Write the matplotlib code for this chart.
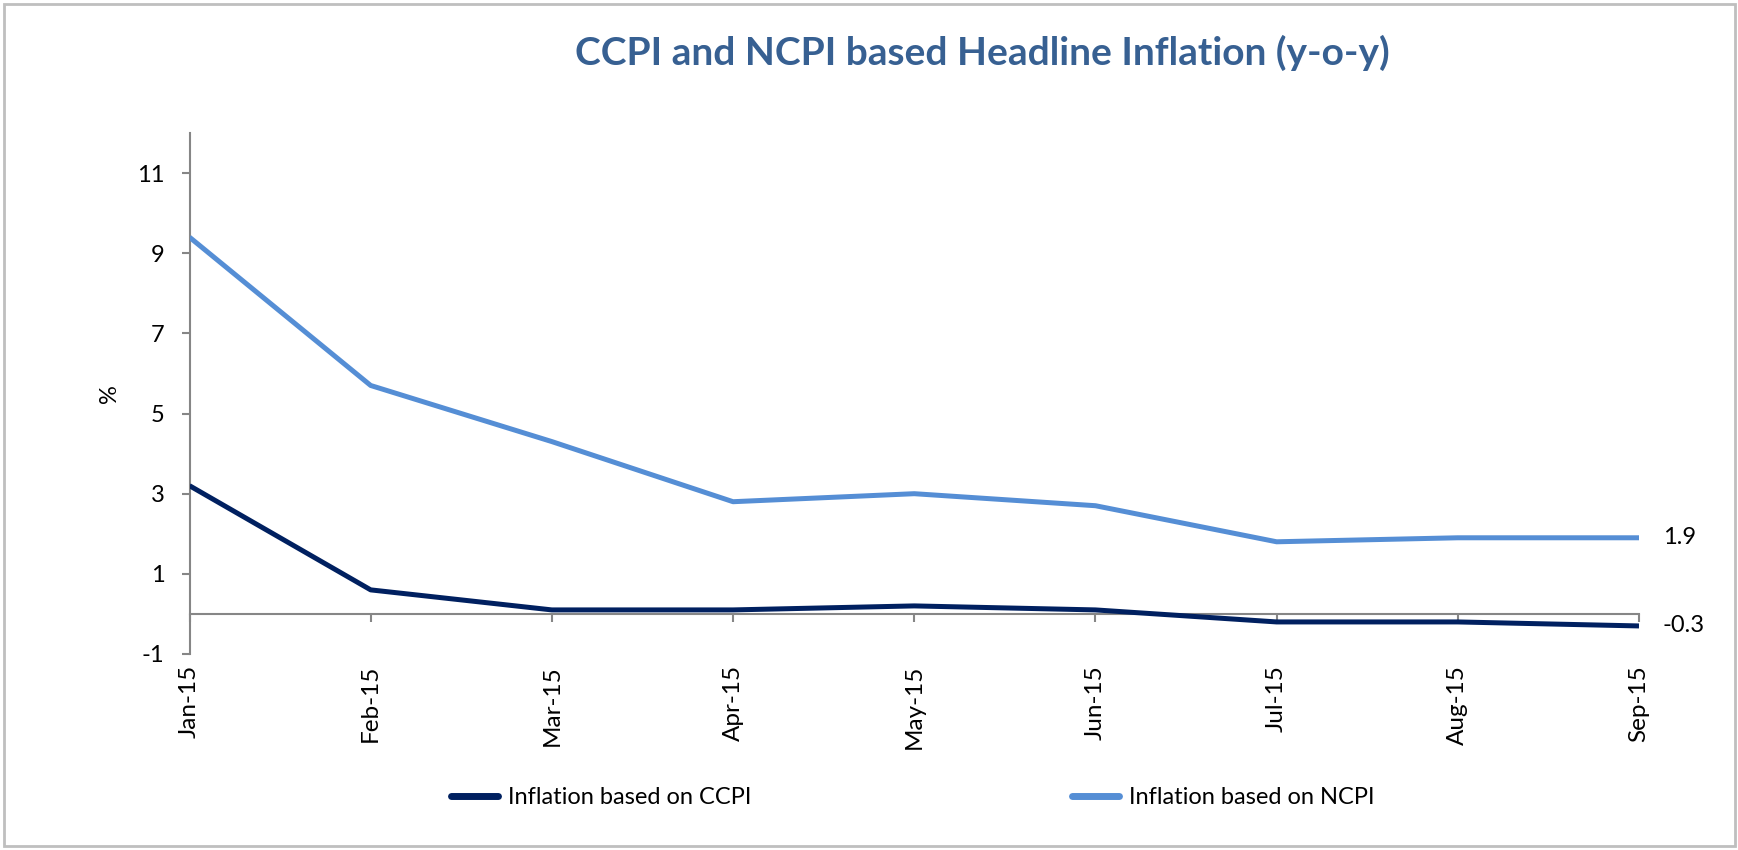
import matplotlib
matplotlib.use("Agg")
import matplotlib.pyplot as plt
from matplotlib.lines import Line2D
from matplotlib.patches import Rectangle

months = ["Jan-15", "Feb-15", "Mar-15", "Apr-15", "May-15", "Jun-15", "Jul-15", "Aug-15", "Sep-15"]
ccpi = [3.2, 0.6, 0.1, 0.1, 0.2, 0.1, -0.2, -0.2, -0.3]
ncpi = [9.4, 5.7, 4.3, 2.8, 3.0, 2.7, 1.8, 1.9, 1.9]
yticks = [-1, 1, 3, 5, 7, 9, 11]
title = "CCPI and NCPI based Headline Inflation (y-o-y)"
label_ccpi = "Inflation based on CCPI"
label_ncpi = "Inflation based on NCPI"

FONT = "Lato"
plt.rcParams['font.family'] = [FONT, 'DejaVu Sans']
c_ccpi = "#002060"
c_ncpi = "#558ED5"
gray = "#868686"
fs = 17

W, H = 1738, 850
fig = plt.figure(figsize=(W / 100, H / 100), dpi=100)
fig.patches.append(Rectangle((4 / W, 4 / H), (1735 - 4) / W, (846 - 4) / H,
                             transform=fig.transFigure, fill=False,
                             edgecolor="#BFBFBF", lw=2))

ax = fig.add_axes([189.5 / W, 1 - 654 / H, (1639 - 189.5) / W, (654 - 133) / H])
x = list(range(len(months)))
ax.plot(x, ccpi, color=c_ccpi, lw=3.6, solid_capstyle='butt', zorder=3)
ax.plot(x, ncpi, color=c_ncpi, lw=3.6, solid_capstyle='butt', zorder=3)

ax.set_xlim(0, len(months) - 1)
ax.set_ylim(-1, 12)
ax.set_yticks(yticks)
ax.set_yticklabels([str(v) for v in yticks])

for s in ["top", "right"]:
    ax.spines[s].set_visible(False)
ax.spines["left"].set_color(gray)
ax.spines["left"].set_linewidth(1.5)
ax.spines["bottom"].set_position(("data", 0))
ax.spines["bottom"].set_color(gray)
ax.spines["bottom"].set_linewidth(1.5)
ax.set_xticks(x)
ax.tick_params(axis="x", direction="out", length=6, width=1.5, color=gray, labelbottom=False)
ax.tick_params(axis="y", direction="out", length=6, width=1.5, color=gray, pad=12, labelsize=fs)

sec = ax.secondary_xaxis("bottom")
sec.set_xticks(x)
sec.set_xticklabels(months, rotation=90, fontsize=17.5)
sec.tick_params(length=0, pad=8)
sec.spines["bottom"].set_visible(False)

ax.set_ylabel("%", fontsize=fs, labelpad=12)

ax.annotate(f"{ncpi[-1]:.1f}", xy=(x[-1], ncpi[-1]), xytext=(17, 0), textcoords="offset points",
            va="center", ha="left", fontsize=fs)
ax.annotate(f"{ccpi[-1]:.1f}", xy=(x[-1], ccpi[-1]), xytext=(17, 0), textcoords="offset points",
            va="center", ha="left", fontsize=fs)

fig.text(982 / W, 1 - 53 / H, title, ha="center", va="center", fontsize=28,
         fontweight="bold", color="#376092")

h1 = Line2D([], [], color=c_ccpi, lw=5, solid_capstyle='round')
h2 = Line2D([], [], color=c_ncpi, lw=5, solid_capstyle='round')
leg1 = fig.legend([h1], [label_ccpi], loc="center left", bbox_to_anchor=(451 / W, 1 - 798 / H),
                  frameon=False, fontsize=fs, handlelength=2.0, handletextpad=0.4, borderpad=0,
                  borderaxespad=0)
leg2 = fig.legend([h2], [label_ncpi], loc="center left", bbox_to_anchor=(1072 / W, 1 - 798 / H),
                  frameon=False, fontsize=fs, handlelength=2.0, handletextpad=0.4, borderpad=0,
                  borderaxespad=0)

fig.savefig("out.png", dpi=100)
